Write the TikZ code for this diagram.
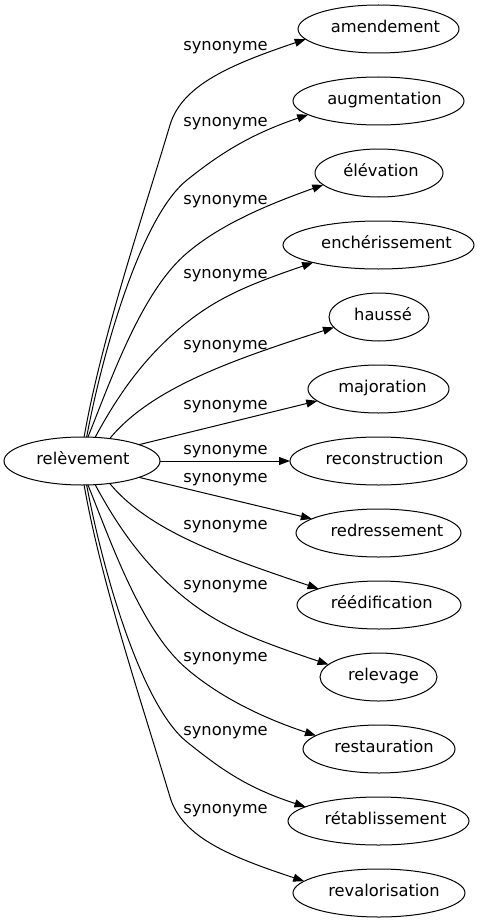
\documentclass[tikz,border=0pt]{standalone}
\usepackage{fontspec}
\setmainfont{DejaVu Sans}
\usetikzlibrary{arrows.meta,shapes.geometric}
\newcommand\shtxt[2]{\kern#1pt\relax#2\kern-#1pt\relax}
\begin{document}
\begin{tikzpicture}[x=1pt,y=-1pt,
  word/.style={ellipse,draw,line width=1pt,inner sep=0pt,outer sep=0pt,minimum height=48pt,font=\fontsize{16.3pt}{19pt}\selectfont,text height=0.85em,text depth=0.15em},
  lab/.style={anchor=base,inner sep=0pt,font=\fontsize{16.3pt}{19pt}\selectfont},
  syn/.style={draw,line width=1pt,-{Triangle[length=11pt,width=8pt]}}]
\useasboundingbox[fill=white] (0,0) rectangle (479,923);
% nodes
\node[word,minimum width=156pt] (rel) at (82,461) {\shtxt{1}{relèvement}};
\node[word,minimum width=161pt] (amend) at (378.5,29) {\shtxt{7}{amendement}};
\node[word,minimum width=171pt] (augm) at (378.5,101) {\shtxt{6}{augmentation}};
\node[word,minimum width=128pt] (elev) at (379,173) {\shtxt{2}{élévation}};
\node[word,minimum width=191pt] (ench) at (378.5,245) {\shtxt{8}{enchérissement}};
\node[word,minimum width=100pt] (hauss) at (379,317) {\shtxt{4}{haussé}};
\node[word,minimum width=141pt] (major) at (378.5,389) {\shtxt{4}{majoration}};
\node[word,minimum width=177pt] (recon) at (378.5,461) {\shtxt{6}{reconstruction}};
\node[word,minimum width=165pt] (redr) at (378.5,533) {\shtxt{8.5}{redressement}};
\node[word,minimum width=164pt] (reed) at (379,605) {\shtxt{2.7}{réédification}};
\node[word,minimum width=117pt] (relev) at (378.5,677) {\shtxt{5}{relevage}};
\node[word,minimum width=152pt] (rest) at (379,749) {\shtxt{5}{restauration}};
\node[word,minimum width=181pt] (retab) at (378.5,821) {\shtxt{7}{rétablissement}};
\node[word,minimum width=172pt] (reval) at (379,893) {\shtxt{5}{revalorisation}};
% labels
\node[lab] (l1) at (225.5,50.7) {synonyme};
\node[lab] (l2) at (225.5,126.5) {synonyme};
\node[lab] (l3) at (225.5,204) {synonyme};
\node[lab] (l4) at (225.5,278.7) {synonyme};
\node[lab] (l5) at (225.5,349.7) {synonyme};
\node[lab] (l6) at (225.5,409) {synonyme};
\node[lab] (l7) at (225.5,454) {synonyme};
\node[lab] (l8) at (225.5,482) {synonyme};
\node[lab] (l9) at (225.5,529) {synonyme};
\node[lab] (l10) at (225.5,589.7) {synonyme};
\node[lab] (l11) at (225.5,661.4) {synonyme};
\node[lab] (l12) at (225.5,735.4) {synonyme};
\node[lab] (l13) at (225.5,813.7) {synonyme};
% edges
\draw[syn] (rel.85.2) .. controls (101.5,338.5) and (140,225) .. (170,125) .. controls (182,85) and (231,64.4) .. (amend.188.2);
\draw[syn] (rel.79.4) .. controls (103.6,347) and (142,216) .. (187,180) .. controls (219,154.4) and (249.4,134.6) .. (augm.191);
\draw[syn] (rel.76) .. controls (112,377) and (142,291) .. (187,253) .. controls (217,227.5) and (258,208) .. (elev.192);
\draw[syn] (rel.61.6) .. controls (117,397) and (144.5,355) .. (190,320) .. controls (222.5,295) and (255,282.5) .. (ench.195);
\draw[syn] (rel.39.8) .. controls (150,390) and (225,362) .. (hauss.193);
\draw[syn] (rel.16.3) -- (major.191.5);
\draw[syn] (rel.east) -- (recon.west);
\draw[syn] (rel.-16.3) -- (redr.168);
\draw[syn] (rel.-39.8) .. controls (150,532) and (225,557) .. (reed.165.3);
\draw[syn] (rel.-61.6) .. controls (117,525) and (144.5,567) .. (190,602) .. controls (222.5,627) and (255.5,640) .. (relev.166.5);
\draw[syn] (rel.-76) .. controls (112,545) and (142,631) .. (187,669) .. controls (217,694.5) and (257,716) .. (rest.168.6);
\draw[syn] (rel.-79.4) .. controls (103.6,575) and (142,706) .. (187,742) .. controls (219,767.6) and (245.4,787.4) .. (retab.169.7);
\draw[syn] (rel.-85.2) .. controls (101.5,583.5) and (140,697) .. (170,797) .. controls (182,837) and (229,856.3) .. (reval.171.1);
\end{tikzpicture}
\end{document}
